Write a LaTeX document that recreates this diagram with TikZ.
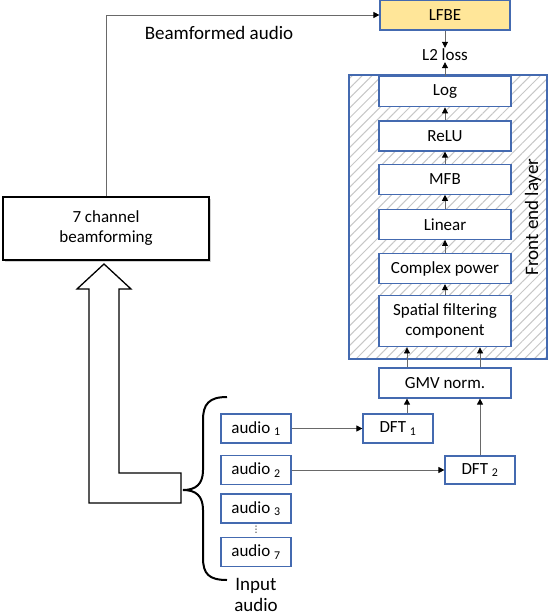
\documentclass[tikz,border=0pt]{standalone}
\usepackage{fontspec}
\setmainfont{Carlito}
\newfontfamily\symfont{DejaVu Sans}
\usetikzlibrary{positioning, arrows.meta, shadows, patterns.meta}
\definecolor{myblueframe}{RGB}{68,106,176}
\definecolor{mygold}{RGB}{255,230,153}
\definecolor{mygrayline}{RGB}{105,105,105}
\tikzset{
  block/.style = {rectangle, draw = myblueframe, fill = white, line width = 1.2bp,
                  minimum width = 132bp, minimum height = 30bp, inner sep = 1bp,
                  align = center, font = \fontsize{17bp}{20bp}\selectfont},
  smallblock/.style = {block, minimum width = 70bp, minimum height = 29bp},
  lfbenode/.style = {block, fill = mygold, minimum width = 130bp},
  beamnode/.style = {rectangle, draw = black, fill = white, line width = 1.2bp,
                     minimum width = 206bp, minimum height = 63bp, align = center,
                     font = \fontsize{17bp}{20bp}\selectfont,
                     drop shadow = {shadow xshift = 2bp, shadow yshift = -2bp, fill = black!35}},
  layerframe/.style = {rectangle, draw = myblueframe, line width = 1.4bp,
                       pattern = {Lines[angle = 45, distance = 7bp, line width = 1bp]},
                       pattern color = black!22},
  arr/.style = {draw = mygrayline, line width = 0.8bp,
                -{Triangle[length = 6bp, width = 6bp, color = black]}},
  lbl/.style = {inner sep = 0pt, font = \fontsize{19bp}{21bp}\selectfont}
}

\begin{document}
\begin{tikzpicture}[x = 1bp, y = -1bp]
\useasboundingbox (0,0) rectangle (548,616);

% front end layer
\node[layerframe, minimum width = 198bp, minimum height = 284bp] (fel) at (448,217) {};
\node[lbl, rotate = 90] (fellbl) at (533,217) {Front end layer};

\node[block] (gmv) at (445,383) {GMV norm.};
\node[block, minimum height = 51bp, above = 20bp of gmv] (spatial) {Spatial filtering\\component};
\node[block, above = 11bp of spatial] (cpow) {Complex power};
\node[block, above = 13bp of cpow] (linear) {Linear};
\node[block, above = 14bp of linear] (mfb) {MFB};
\node[block, above = 12bp of mfb] (relu) {ReLU};
\node[block, above = 13bp of relu] (log) {Log};

\node[lfbenode] (lfbe) at (445,15) {LFBE};
\node[inner sep = 1bp, font = \fontsize{17bp}{20bp}\selectfont] (loss) at (445,55) {L2 loss};

\draw[arr] (lfbe) -- (loss);
\draw[arr] (log) -- (loss);
\draw[arr] (relu) -- (log);
\draw[arr] (mfb) -- (relu);
\draw[arr] (linear) -- (mfb);
\draw[arr] (cpow) -- (linear);
\draw[arr] (spatial) -- (cpow);
\draw[arr] ([xshift = -38bp]gmv.north) -- ([xshift = -38bp]spatial.south);
\draw[arr] ([xshift = 35bp]gmv.north) -- ([xshift = 35bp]spatial.south);

% microphones
\node[smallblock] (audio1) at (256,428.5) {audio \textsubscript{1}};
\node[smallblock] (audio2) at (256,470) {audio \textsubscript{2}};
\node[smallblock] (audio3) at (256,508.5) {audio \textsubscript{3}};
\node[smallblock] (audio7) at (256,552) {audio \textsubscript{7}};
\node[inner sep = 0pt, font = \symfont\fontsize{9bp}{9bp}\selectfont] (dots) at (256,530) {⋮};

\node[smallblock] (dft1) at (398,428.5) {DFT \textsubscript{1}};
\node[smallblock, minimum height = 28bp] (dft2) at (480,470) {DFT \textsubscript{2}};

\draw[arr] (audio1) -- (dft1);
\draw[arr] (audio2) -- (dft2);
\draw[arr] ([xshift = -38bp]gmv.south |- dft1.north) -- ([xshift = -38bp]gmv.south);
\draw[arr] (dft2.north) -- (dft2.north |- gmv.south);

% brace round the inputs
\draw[line width = 2bp] (227,397) .. controls (209,397) and (203,404) .. (203,420)
    -- (203,470) .. controls (203,484) and (196,490) .. (183,490)
    .. controls (196,490) and (203,496) .. (203,510)
    -- (203,558) .. controls (203,574) and (209,580) .. (227,580);
\node[lbl, align = center] (inputlbl) at (256,595) {Input\\audio};

% beamforming path
\node[beamnode] (beam) at (106,228.5) {7 channel\\beamforming};
\draw[line width = 1.3bp, fill = white] (104,264) -- (131,289) -- (119,289) -- (119,473)
    -- (181,473) -- (181,503) -- (89,503) -- (89,289) -- (77,289) -- cycle;
\draw[arr] (beam.north) |- (lfbe.west);
\node[lbl] (beamlbl) at (219,33) {Beamformed audio};
\end{tikzpicture}
\end{document}
